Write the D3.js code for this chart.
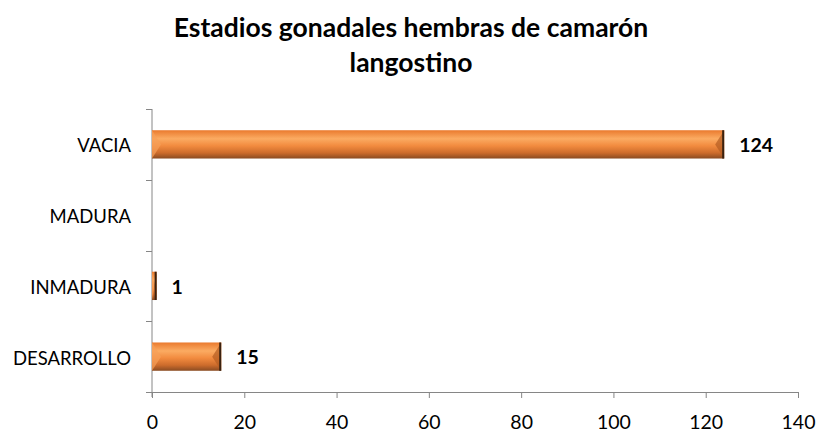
<!DOCTYPE html>
<html>
<head>
<meta charset="utf-8">
<script src="https://cdn.jsdelivr.net/npm/d3@7"></script>
<style>
  body { margin: 0; background: #fff; }
  text { font-family: Lato, "Open Sans", sans-serif; }
</style>
</head>
<body>
<div id="chart"></div>
<script>
const categories = ["VACIA", "MADURA", "INMADURA", "DESARROLLO"];
const counts = [124, 0, 1, 15];
const xTicks = [0, 20, 40, 60, 80, 100, 120, 140];
const titleLines = ["Estadios gonadales hembras de camarón", "langostino"];

const W = 817, H = 432;
const svg = d3.select("#chart").append("svg").attr("width", W).attr("height", H);

const x = d3.scaleLinear().domain([0, 140]).range([152, 798]);
const y = d3.scaleBand().domain(categories).range([109, 392]).paddingInner(0.6).paddingOuter(0.3);

const defs = svg.append("defs");
const grad = defs.append("linearGradient").attr("id", "barGrad")
  .attr("x1", 0).attr("y1", 0).attr("x2", 0).attr("y2", 1);
grad.append("stop").attr("offset", "0%").attr("stop-color", "#ea7a2e");
grad.append("stop").attr("offset", "30%").attr("stop-color", "#fbab62");
grad.append("stop").attr("offset", "55%").attr("stop-color", "#f28b3f");
grad.append("stop").attr("offset", "80%").attr("stop-color", "#cd6c2c");
grad.append("stop").attr("offset", "100%").attr("stop-color", "#8a4b22");

// title
svg.append("g").selectAll("text").data(titleLines).enter().append("text")
  .attr("x", 411).attr("y", (d, i) => 37 + i * 35)
  .attr("text-anchor", "middle")
  .attr("font-size", 26.5).attr("font-weight", "bold").attr("fill", "#000")
  .text(d => d);

// x axis
const xAxis = svg.append("g").attr("transform", "translate(0,392)")
  .call(d3.axisBottom(x).tickValues(xTicks).tickSize(6).tickSizeOuter(0).tickPadding(17));
xAxis.select(".domain").attr("stroke", "#868686");
xAxis.selectAll(".tick line").attr("stroke", "#868686").attr("y1", 0).attr("y2", 6);
xAxis.selectAll(".tick text").attr("font-size", 19.5).attr("fill", "#000")
  .style("font-family", "Lato, sans-serif");

// y axis (ticks between categories)
const bounds = [109].concat(categories.map(c => y(c) + y.bandwidth() / 2 + y.step() / 2));
svg.append("line").attr("x1", 152).attr("x2", 152).attr("y1", 109).attr("y2", 397)
  .attr("stroke", "#868686");
svg.append("g").selectAll("line").data(bounds).enter().append("line")
  .attr("x1", 146).attr("x2", 152)
  .attr("y1", d => Math.round(d) + 0.5).attr("y2", d => Math.round(d) + 0.5)
  .attr("stroke", "#868686");
svg.append("g").selectAll("text").data(categories).enter().append("text")
  .attr("x", 131).attr("y", c => y(c) + y.bandwidth() / 2 + 1.5)
  .attr("dy", "0.35em").attr("text-anchor", "end")
  .attr("font-size", 18.5).attr("fill", "#000")
  .text(c => c);

// bars
const data = categories.map((c, i) => ({ cat: c, v: counts[i] }));
const bars = svg.append("g").selectAll("g").data(data.filter(d => d.v > 0)).enter().append("g");
bars.append("rect")
  .attr("x", x(0)).attr("y", d => y(d.cat))
  .attr("width", d => x(d.v) - x(0)).attr("height", y.bandwidth())
  .attr("fill", "url(#barGrad)");
// bevel ends
bars.append("path")
  .attr("d", d => {
    const x0 = x(0), x1 = x(d.v), t = y(d.cat), h = y.bandwidth();
    const b = Math.min(9, (x1 - x0) / 2);
    return `M${x1},${t} L${x1 - b},${t + h / 2} L${x1},${t + h} Z`;
  })
  .attr("fill", "#b35d22").attr("opacity", 0.7);
bars.append("path")
  .attr("d", d => {
    const x0 = x(0), x1 = x(d.v), t = y(d.cat), h = y.bandwidth();
    const b = Math.min(9, (x1 - x0) / 2);
    return `M${x0},${t} L${x0 + b},${t + h / 2} L${x0},${t + h} Z`;
  })
  .attr("fill", "#f7a058").attr("opacity", 0.7);
bars.append("line")
  .attr("x1", d => x(d.v) - 1).attr("x2", d => x(d.v) - 1)
  .attr("y1", d => y(d.cat)).attr("y2", d => y(d.cat) + y.bandwidth())
  .attr("stroke", "#3a2210").attr("stroke-width", 2);

// value labels
bars.append("text")
  .attr("x", d => x(d.v) + 15).attr("y", d => y(d.cat) + y.bandwidth() / 2 + 1)
  .attr("dy", "0.35em").attr("font-size", 19.5).attr("font-weight", "bold").attr("fill", "#000")
  .text(d => d.v);
</script>
</body>
</html>
